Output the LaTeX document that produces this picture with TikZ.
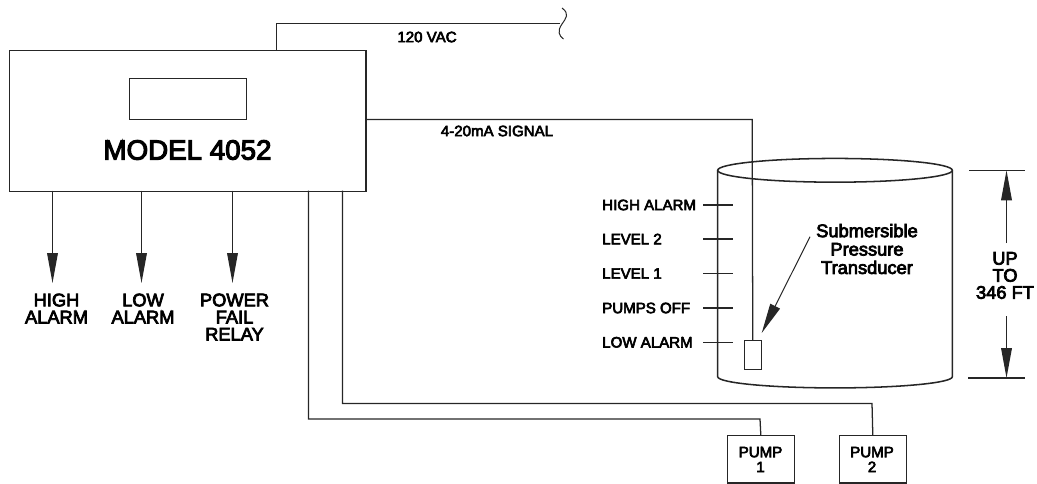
\documentclass[tikz,border=0pt]{standalone}
\usepackage{fontspec}
\newfontfamily\lab{Liberation Sans}[FakeBold=4]
\usetikzlibrary{arrows.meta,calc}
\tikzset{
  x=0.75pt,y=-0.75pt,
  heavy/.style={line width=1.15pt,draw=black!85},
  wire/.style={line width=0.95pt,draw=black!85},
  thin wire/.style={line width=0.75pt,draw=black!85},
  box/.style={rectangle,inner sep=0pt,anchor=north west},
  big head/.style={-{Triangle[length=22.5pt,width=8pt]}},
  label/.style={inner sep=0pt,align=center,font=\lab\fontsize{13.7}{12.8}\selectfont},
  small label/.style={inner sep=0pt,align=left,font=\lab\fontsize{11.3}{11}\selectfont},
  pump label/.style={inner sep=0pt,align=center,font=\lab\fontsize{11.3}{11.2}\selectfont},
}
\begin{document}
\begin{tikzpicture}
\useasboundingbox (0,0) rectangle (1037,483);
% controller
\node[box,heavy,draw,minimum width=267.5pt,minimum height=105.75pt] (model) at (8.5,49.5) {};
\node[box,wire,draw,minimum width=87.4pt,minimum height=31.1pt] (display) at (129,77.5) {};
\node[inner sep=0pt,font=\lab\fontsize{20.8}{24}\selectfont] (modeltext) at (187.5,150) {MODEL 4052};
% mains
\coordinate (acout) at (276.5,49.5);
\coordinate (acend) at (560,23.5);
\coordinate (brk) at (562,8);
\coordinate (brkend) at (563.5,39);
\draw[wire] (acout) |- (acend);
\draw[thin wire] (brk) .. controls (570,14) and (566,18) .. (562,24) .. controls (557,31) and (559,36) .. (brkend);
\node[small label] (vac) at (427,37) {120 VAC};
% signal
\node[box,thin wire,draw,minimum width=12.4pt,minimum height=21.75pt] (sensor) at (744,340) {};
\coordinate (sigout) at (366,119.5);
\coordinate (sigturn) at (752.2,119.5);
\draw[wire] (sigout) -- (sigturn) -- (sensor.north);
\node[small label] (sigtext) at (497,131) {4-20mA SIGNAL};
% tank
\draw[heavy] (835,170.3) ellipse [x radius=88pt,y radius=8.9pt];
\draw[heavy] (717.7,170.3) -- (717.7,376.7) arc[start angle=180,end angle=360,x radius=88pt,y radius=8.4pt] -- (952.3,170.3);
% level ticks
\foreach \n/\t/\y in {a/HIGH ALARM/205,b/LEVEL 2/239,c/LEVEL 1/273.5,d/PUMPS OFF/308,e/LOW ALARM/342.3}{
  \node[small label,anchor=west] (lvl\n) at (602,\y) {\t};
  \coordinate (tick\n) at (703.3,\y);
  \coordinate (tickend\n) at (732.7,\y);
  \draw[wire] (tick\n) -- (tickend\n);
}
% transducer callout
\node[label] (sub) at (867,249) {Submersible\\[1pt]Pressure\\[1pt]Transducer};
\coordinate (callout) at (810,236.7);
\coordinate (callouttip) at (761.7,333);
\draw[thin wire,big head] (callout) -- (callouttip);
% height dimension
\coordinate (dimtopa) at (969,170.3);
\coordinate (dimtopb) at (1025,170.3);
\coordinate (dimbota) at (968,378);
\coordinate (dimbotb) at (1025,378);
\draw[wire] (dimtopa) -- (dimtopb);
\draw[wire] (dimbota) -- (dimbotb);
\node[label] (dim) at (1005,275.5) {UP\\TO\\346 FT};
\coordinate (dimup) at (1006.5,243);
\coordinate (dimupt) at (1006.5,170.3);
\coordinate (dimdn) at (1006.5,316);
\coordinate (dimdnt) at (1006.5,378);
\draw[wire,big head] (dimup) -- (dimupt);
\draw[wire,big head] (dimdn) -- (dimdnt);
% relay outputs
\node[label] (hi) at (56.5,308.5) {HIGH\\ALARM};
\node[label] (lo) at (143,308.5) {LOW\\ALARM};
\node[label] (pf) at (234.5,317) {POWER\\FAIL\\RELAY};
\foreach \n/\x in {hi/52.5,lo/141.5,pf/232.5}{
  \coordinate (\n out) at (\x,190.5);
  \coordinate (\n tip) at (\x,283);
  \draw[wire,big head] (\n out) -- (\n tip);
}
% pumps
\node[box,wire,draw,minimum width=50.2pt,minimum height=35.6pt] (pumpa) at (726.7,435) {};
\node[box,wire,draw,minimum width=50.2pt,minimum height=35.6pt] (pumpb) at (838.7,435) {};
\node[pump label] (pumpatext) at (760.5,459.5) {PUMP\\1};
\node[pump label] (pumpbtext) at (872,459.5) {PUMP\\2};
\coordinate (pao) at (308.5,190.5);
\coordinate (pbo) at (342.5,190.5);
\draw[wire] (pao) |- (760,419) -- (pumpa.north);
\draw[wire] (pbo) |- (872,403.5) -- (pumpb.north);
\end{tikzpicture}
\end{document}
